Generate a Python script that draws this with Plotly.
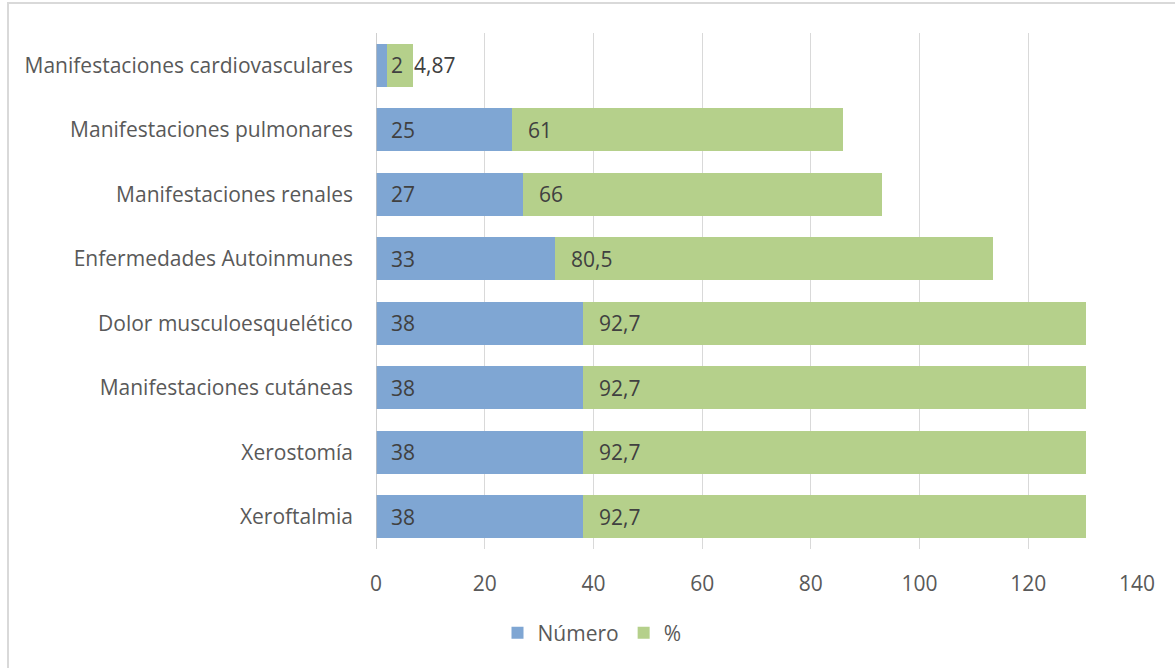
import plotly.graph_objects as go

categories = [
    "Xeroftalmia",
    "Xerostomía",
    "Manifestaciones cutáneas",
    "Dolor musculoesquelético",
    "Enfermedades Autoinmunes",
    "Manifestaciones renales",
    "Manifestaciones pulmonares",
    "Manifestaciones cardiovasculares",
]
numero = [38, 38, 38, 38, 33, 27, 25, 2]
porcentaje = [92.7, 92.7, 92.7, 92.7, 80.5, 66, 61, 4.87]
numero_labels = ["38", "38", "38", "38", "33", "27", "25", "2"]
porcentaje_labels = ["92,7", "92,7", "92,7", "92,7", "80,5", "66", "61", "4,87"]
x_ticks = [0, 20, 40, 60, 80, 100, 120, 140]

BLUE = "#7fa6d3"
GREEN = "#b5d08b"
FONT = "Open Sans"
FS = 21

W, H = 1175, 668
L, R, T, B = 376, 38, 33, 119

fig = go.Figure()
fig.add_trace(go.Bar(y=categories, x=numero, orientation="h", name="Número",
                     marker=dict(color=BLUE, line=dict(width=0)), width=0.67))
fig.add_trace(go.Bar(y=categories, x=porcentaje, orientation="h", name="%",
                     marker=dict(color=GREEN, line=dict(width=0)), width=0.67))

ann = []
for i, c in enumerate(categories):
    ann.append(dict(x=0, y=c, text=numero_labels[i], xanchor="left", xshift=13,
                    showarrow=False, font=dict(family=FONT, size=FS, color="#404040")))
    base = numero[i]
    if porcentaje[i] < 10:
        ann.append(dict(x=base + porcentaje[i], y=c, text=porcentaje_labels[i], xanchor="left",
                        xshift=-1, showarrow=False, font=dict(family=FONT, size=FS, color="#404040")))
    else:
        ann.append(dict(x=base, y=c, text=porcentaje_labels[i], xanchor="left", xshift=14,
                        showarrow=False, font=dict(family=FONT, size=FS, color="#404040")))

pw = W - L - R
ph = H - T - B
fig.update_layout(
    width=W, height=H,
    margin=dict(l=L, r=R, t=T, b=B, pad=0),
    barmode="stack",
    plot_bgcolor="white", paper_bgcolor="white",
    font=dict(family=FONT, size=FS, color="#595959"),
    xaxis=dict(range=[0, 140], tickvals=x_ticks, showgrid=True, gridcolor="#d9d9d9",
               gridwidth=1, zeroline=False, showline=False, ticks="",
               tickfont=dict(family=FONT, size=FS, color="#595959"), ticklabelstandoff=20),
    yaxis=dict(categoryorder="array", categoryarray=categories, showgrid=False,
               zeroline=False, showline=False, ticks="",
               tickfont=dict(family=FONT, size=FS, color="#595959"), ticklabelstandoff=22),
    showlegend=True,
    legend=dict(orientation="h", x=(592 - L) / pw, xanchor="center",
                y=-(633 - (H - B)) / ph, yanchor="middle", traceorder="normal",
                font=dict(family=FONT, size=FS, color="#595959"),
                itemwidth=30, tracegroupgap=0),
    annotations=ann,
    shapes=[
        dict(type="line", xref="x", yref="paper", x0=0, x1=0, y0=0, y1=1,
             line=dict(color="#bfbfbf", width=1.5)),
        dict(type="rect", xref="paper", yref="paper",
             x0=(8 - L) / pw, x1=(W + 10 - L) / pw,
             y0=-(H + 10 - (H - B)) / ph, y1=((H - B) - 3) / ph,
             line=dict(color="#d9d9d9", width=2), fillcolor="rgba(0,0,0,0)", layer="below"),
    ],
    bargap=0.33,
)

fig.write_html("out.html")
